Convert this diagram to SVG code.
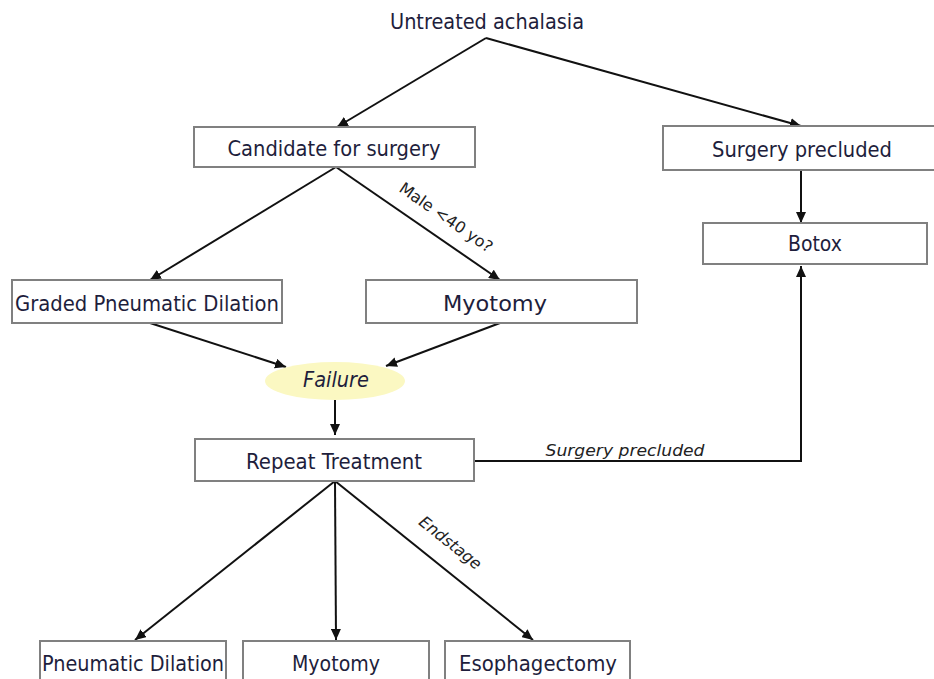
<svg xmlns="http://www.w3.org/2000/svg" width="934" height="679" viewBox="0 0 934 679">
<defs>
<marker id="ah" markerUnits="userSpaceOnUse" markerWidth="12" markerHeight="10" refX="11" refY="5" orient="auto">
<path d="M0,0 L11,5 L0,10 z" fill="#111"/>
</marker>
<style>
.box{fill:#fff;stroke:#808080;stroke-width:2}
.t{font-family:"DejaVu Sans","Liberation Sans",sans-serif;font-size:21px;fill:#1e1e3c;text-anchor:middle}
.lbl{font-family:"DejaVu Sans","Liberation Sans",sans-serif;font-size:16px;fill:#222;text-anchor:middle}
.it{font-style:italic}
.c{fill:none;stroke:#111;stroke-width:2;marker-end:url(#ah)}
</style>
</defs>
<rect width="934" height="679" fill="#fff"/>
<g id="connectors">
<path class="c" d="M486,38 L337,127"/>
<path class="c" d="M486,38 L801,126"/>
<path class="c" d="M801,170 L801,223"/>
<path class="c" d="M336,167 L150,280"/>
<path class="c" d="M336,167 L500,280"/>
<path class="c" d="M150,323 L286,367"/>
<path class="c" d="M500,323 L386,366"/>
<path class="c" d="M335,400 L335,435"/>
<path class="c" d="M474,461 L801,461 L801,266"/>
<path class="c" d="M335,481 L135,640"/>
<path class="c" d="M335,481 L336,640"/>
<path class="c" d="M335,481 L533,640"/>
<text class="lbl" transform="translate(443,222) rotate(34.7)">Male &lt;40 yo?</text>
<text class="lbl it" x="625" y="456" textLength="159" lengthAdjust="spacingAndGlyphs">Surgery precluded</text>
<text class="lbl it" transform="translate(447,547) rotate(38.5)">Endstage</text>
</g>
<g id="n-untreated">
<text class="t" x="487" y="29" textLength="194" lengthAdjust="spacingAndGlyphs">Untreated achalasia</text>
</g>
<g id="n-candidate">
<rect class="box" x="194" y="127" width="281" height="40"/>
<text class="t" x="334" y="156" textLength="213" lengthAdjust="spacingAndGlyphs">Candidate for surgery</text>
</g>
<g id="n-precluded">
<rect class="box" x="663" y="126" width="280" height="44"/>
<text class="t" x="802" y="157" textLength="180" lengthAdjust="spacingAndGlyphs">Surgery precluded</text>
</g>
<g id="n-botox">
<rect class="box" x="703" y="223" width="224" height="41"/>
<text class="t" x="815" y="251" textLength="54" lengthAdjust="spacingAndGlyphs">Botox</text>
</g>
<g id="n-gpd">
<rect class="box" x="12" y="280" width="270" height="43"/>
<text class="t" x="147" y="311" textLength="264" lengthAdjust="spacingAndGlyphs">Graded Pneumatic Dilation</text>
</g>
<g id="n-myotomy1">
<rect class="box" x="366" y="280" width="271" height="43"/>
<text class="t" x="495" y="311" textLength="104" lengthAdjust="spacingAndGlyphs">Myotomy</text>
</g>
<g id="n-failure">
<ellipse cx="335" cy="381" rx="70" ry="19" fill="#fbf8c2"/>
<text class="t it" x="336" y="387" textLength="66" lengthAdjust="spacingAndGlyphs">Failure</text>
</g>
<g id="n-repeat">
<rect class="box" x="195" y="439" width="279" height="42"/>
<text class="t" x="334" y="469" textLength="176" lengthAdjust="spacingAndGlyphs">Repeat Treatment</text>
</g>
<g id="n-pd">
<rect class="box" x="40" y="641" width="186" height="50"/>
<text class="t" x="133" y="671" textLength="182" lengthAdjust="spacingAndGlyphs">Pneumatic Dilation</text>
</g>
<g id="n-myotomy2">
<rect class="box" x="243" y="641" width="186" height="50"/>
<text class="t" x="336" y="671" textLength="88" lengthAdjust="spacingAndGlyphs">Myotomy</text>
</g>
<g id="n-esoph">
<rect class="box" x="445" y="641" width="185" height="50"/>
<text class="t" x="538" y="671" textLength="158" lengthAdjust="spacingAndGlyphs">Esophagectomy</text>
</g>
</svg>
